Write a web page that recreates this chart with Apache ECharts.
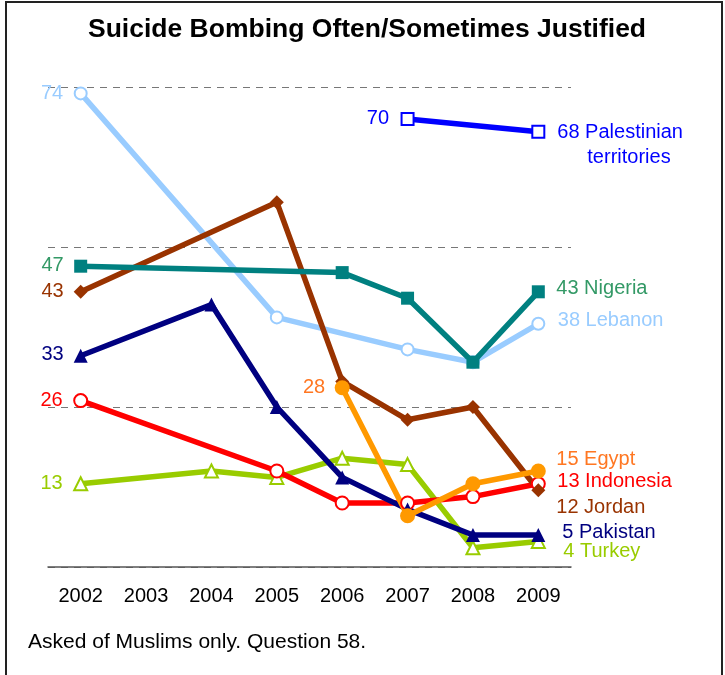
<!DOCTYPE html>
<html>
<head>
<meta charset="utf-8">
<script src="https://cdn.jsdelivr.net/npm/echarts@6/dist/echarts.min.js"></script>
<style>
html,body{margin:0;padding:0;background:#fff;}
#chart{width:725px;height:675px;}
</style>
</head>
<body>
<div id="chart"></div>
<script>
const years = ['2002','2003','2004','2005','2006','2007','2008','2009'];
const yTicks = [0, 25, 50, 75];
const palestinian = [null, null, null, null, null, 70, null, 68];
const nigeria     = [47, null, null, null, 46, 42, 32, 43];
const lebanon     = [74, null, null, 39, null, 34, 32, 38];
const jordan      = [43, null, null, 57, 29, 23, 25, 12];
const pakistan    = [33, null, 41, 25, 14, 9, 5, 5];
const indonesia   = [26, null, null, 15, 10, 10, 11, 13];
const egypt       = [null, null, null, null, 28, 8, 13, 15];
const turkey      = [13, null, 15, 14, 17, 16, 3, 4];
const titleText = 'Suicide Bombing Often/Sometimes Justified';
const noteText = 'Asked of Muslims only. Question 58.';

const FONT = 'Liberation Sans, Arial, sans-serif';

const specs = [
  {name:'Lebanon', data:lebanon, color:'#99CCFF', labelColor:'#99CCFF', symbol:'emptyCircle', size:12,
   first:{dist:10.5, dy:0}, last:{dist:12.5, dy:-3}},
  {name:'Turkey', data:turkey, color:'#99CC00', labelColor:'#99CC00', symbol:'emptyTriangle', size:13,
   first:{dist:10.5, dy:0}, last:{dist:17.5, dy:10}},
  {name:'Indonesia', data:indonesia, color:'#FF0000', labelColor:'#FF0000', symbol:'emptyCircle', size:13,
   first:{dist:10.5, dy:0}, last:{dist:11.5, dy:-2}},
  {name:'Pakistan', data:pakistan, color:'#000080', labelColor:'#000080', symbol:'triangle', size:14,
   first:{dist:10, dy:-1}, last:{dist:17, dy:-3}},
  {name:'Jordan', data:jordan, color:'#993300', labelColor:'#993300', symbol:'diamond', size:14,
   first:{dist:10, dy:0}, last:{dist:11, dy:17}},
  {name:'Nigeria', data:nigeria, color:'#008080', labelColor:'#339966', symbol:'rect', size:13,
   first:{dist:10.5, dy:-1}, last:{dist:11.5, dy:-3}},
  {name:'Egypt', data:egypt, color:'#FF9900', labelColor:'#FF7722', symbol:'circle', size:15,
   first:{dist:9.5, dy:0}, last:{dist:10.5, dy:-11.5}},
  {name:'Palestinian territories', data:palestinian, color:'#0000FF', labelColor:'#0000FF', symbol:'emptyRect', size:12,
   first:{dist:11.5, dy:-1}, last:{dist:12, dy:13, rich:true}}
];

function buildSeries(s) {
  const idx = s.data.map((v,i)=> v==null ? -1 : i).filter(i=>i>=0);
  const fi = idx[0], li = idx[idx.length-1];
  const data = s.data.map((v,i)=>{
    if (v == null) return '-';
    const item = {value:v};
    if (i === fi) {
      item.label = {show:true, position:'left', distance:s.first.dist, offset:[0, s.first.dy],
        formatter: String(v), color:s.labelColor, fontSize:20, fontFamily:FONT};
    } else if (i === li) {
      if (s.last.rich) {
        const parts = s.name.split(' ');
        item.label = {show:true, position:'right', distance:s.last.dist, offset:[0, s.last.dy],
          formatter: '{a|' + v + ' ' + parts[0] + '}\n{b|' + parts.slice(1).join(' ') + '}',
          color:s.labelColor, fontSize:20, fontFamily:FONT, align:'left',
          rich:{a:{fontSize:20, lineHeight:25, color:s.labelColor, fontFamily:FONT},
                b:{fontSize:20, lineHeight:25, color:s.labelColor, fontFamily:FONT, padding:[0,0,0,30]}}};
      } else {
        item.label = {show:true, position:'right', distance:s.last.dist, offset:[0, s.last.dy],
          formatter: v + ' ' + s.name, color:s.labelColor, fontSize:20, fontFamily:FONT};
      }
    }
    return item;
  });
  const empty = s.symbol.indexOf('empty') === 0;
  return {
    type:'line', name:s.name, data, connectNulls:true,
    symbol:s.symbol, symbolSize:s.size, showAllSymbol:true,
    lineStyle:{width:5.5, color:s.color},
    itemStyle:{color:s.color, borderColor:s.color, borderWidth: empty ? 2 : 0},
    label:{show:false},
    emphasis:{disabled:true},
    animation:false
  };
}

const chart = echarts.init(document.getElementById('chart'), null, {renderer:'canvas'});
chart.setOption({
  backgroundColor:'#ffffff',
  animation:false,
  title:[
    {text:titleText, left:88, top:16, padding:0,
     textStyle:{fontFamily:FONT, fontSize:26.5, fontWeight:'bold', color:'#000'}},
    {text:noteText, left:28, top:632, padding:0,
     textStyle:{fontFamily:FONT, fontSize:21, fontWeight:'normal', color:'#000'}}
  ],
  graphic:[
    {type:'rect', shape:{x:6, y:2, width:716, height:720}, style:{fill:'none', stroke:'#222', lineWidth:2}, silent:true}
  ],
  grid:{left:48, right:154, top:87, bottom:108, containLabel:false},
  xAxis:{
    type:'category', data:years, boundaryGap:true,
    axisLine:{show:true, lineStyle:{color:'#555', width:1.5}},
    axisTick:{show:false},
    axisLabel:{color:'#000', fontSize:20, fontFamily:FONT, margin:19, interval:0},
    splitLine:{show:false}
  },
  yAxis:{
    type:'value', min:yTicks[0], max:yTicks[yTicks.length-1], interval:yTicks[1]-yTicks[0],
    axisLine:{show:false}, axisTick:{show:false}, axisLabel:{show:false},
    splitLine:{show:true, lineStyle:{color:'#777', type:[7,6], width:1}}
  },
  series: specs.map(buildSeries)
});
</script>
</body>
</html>
